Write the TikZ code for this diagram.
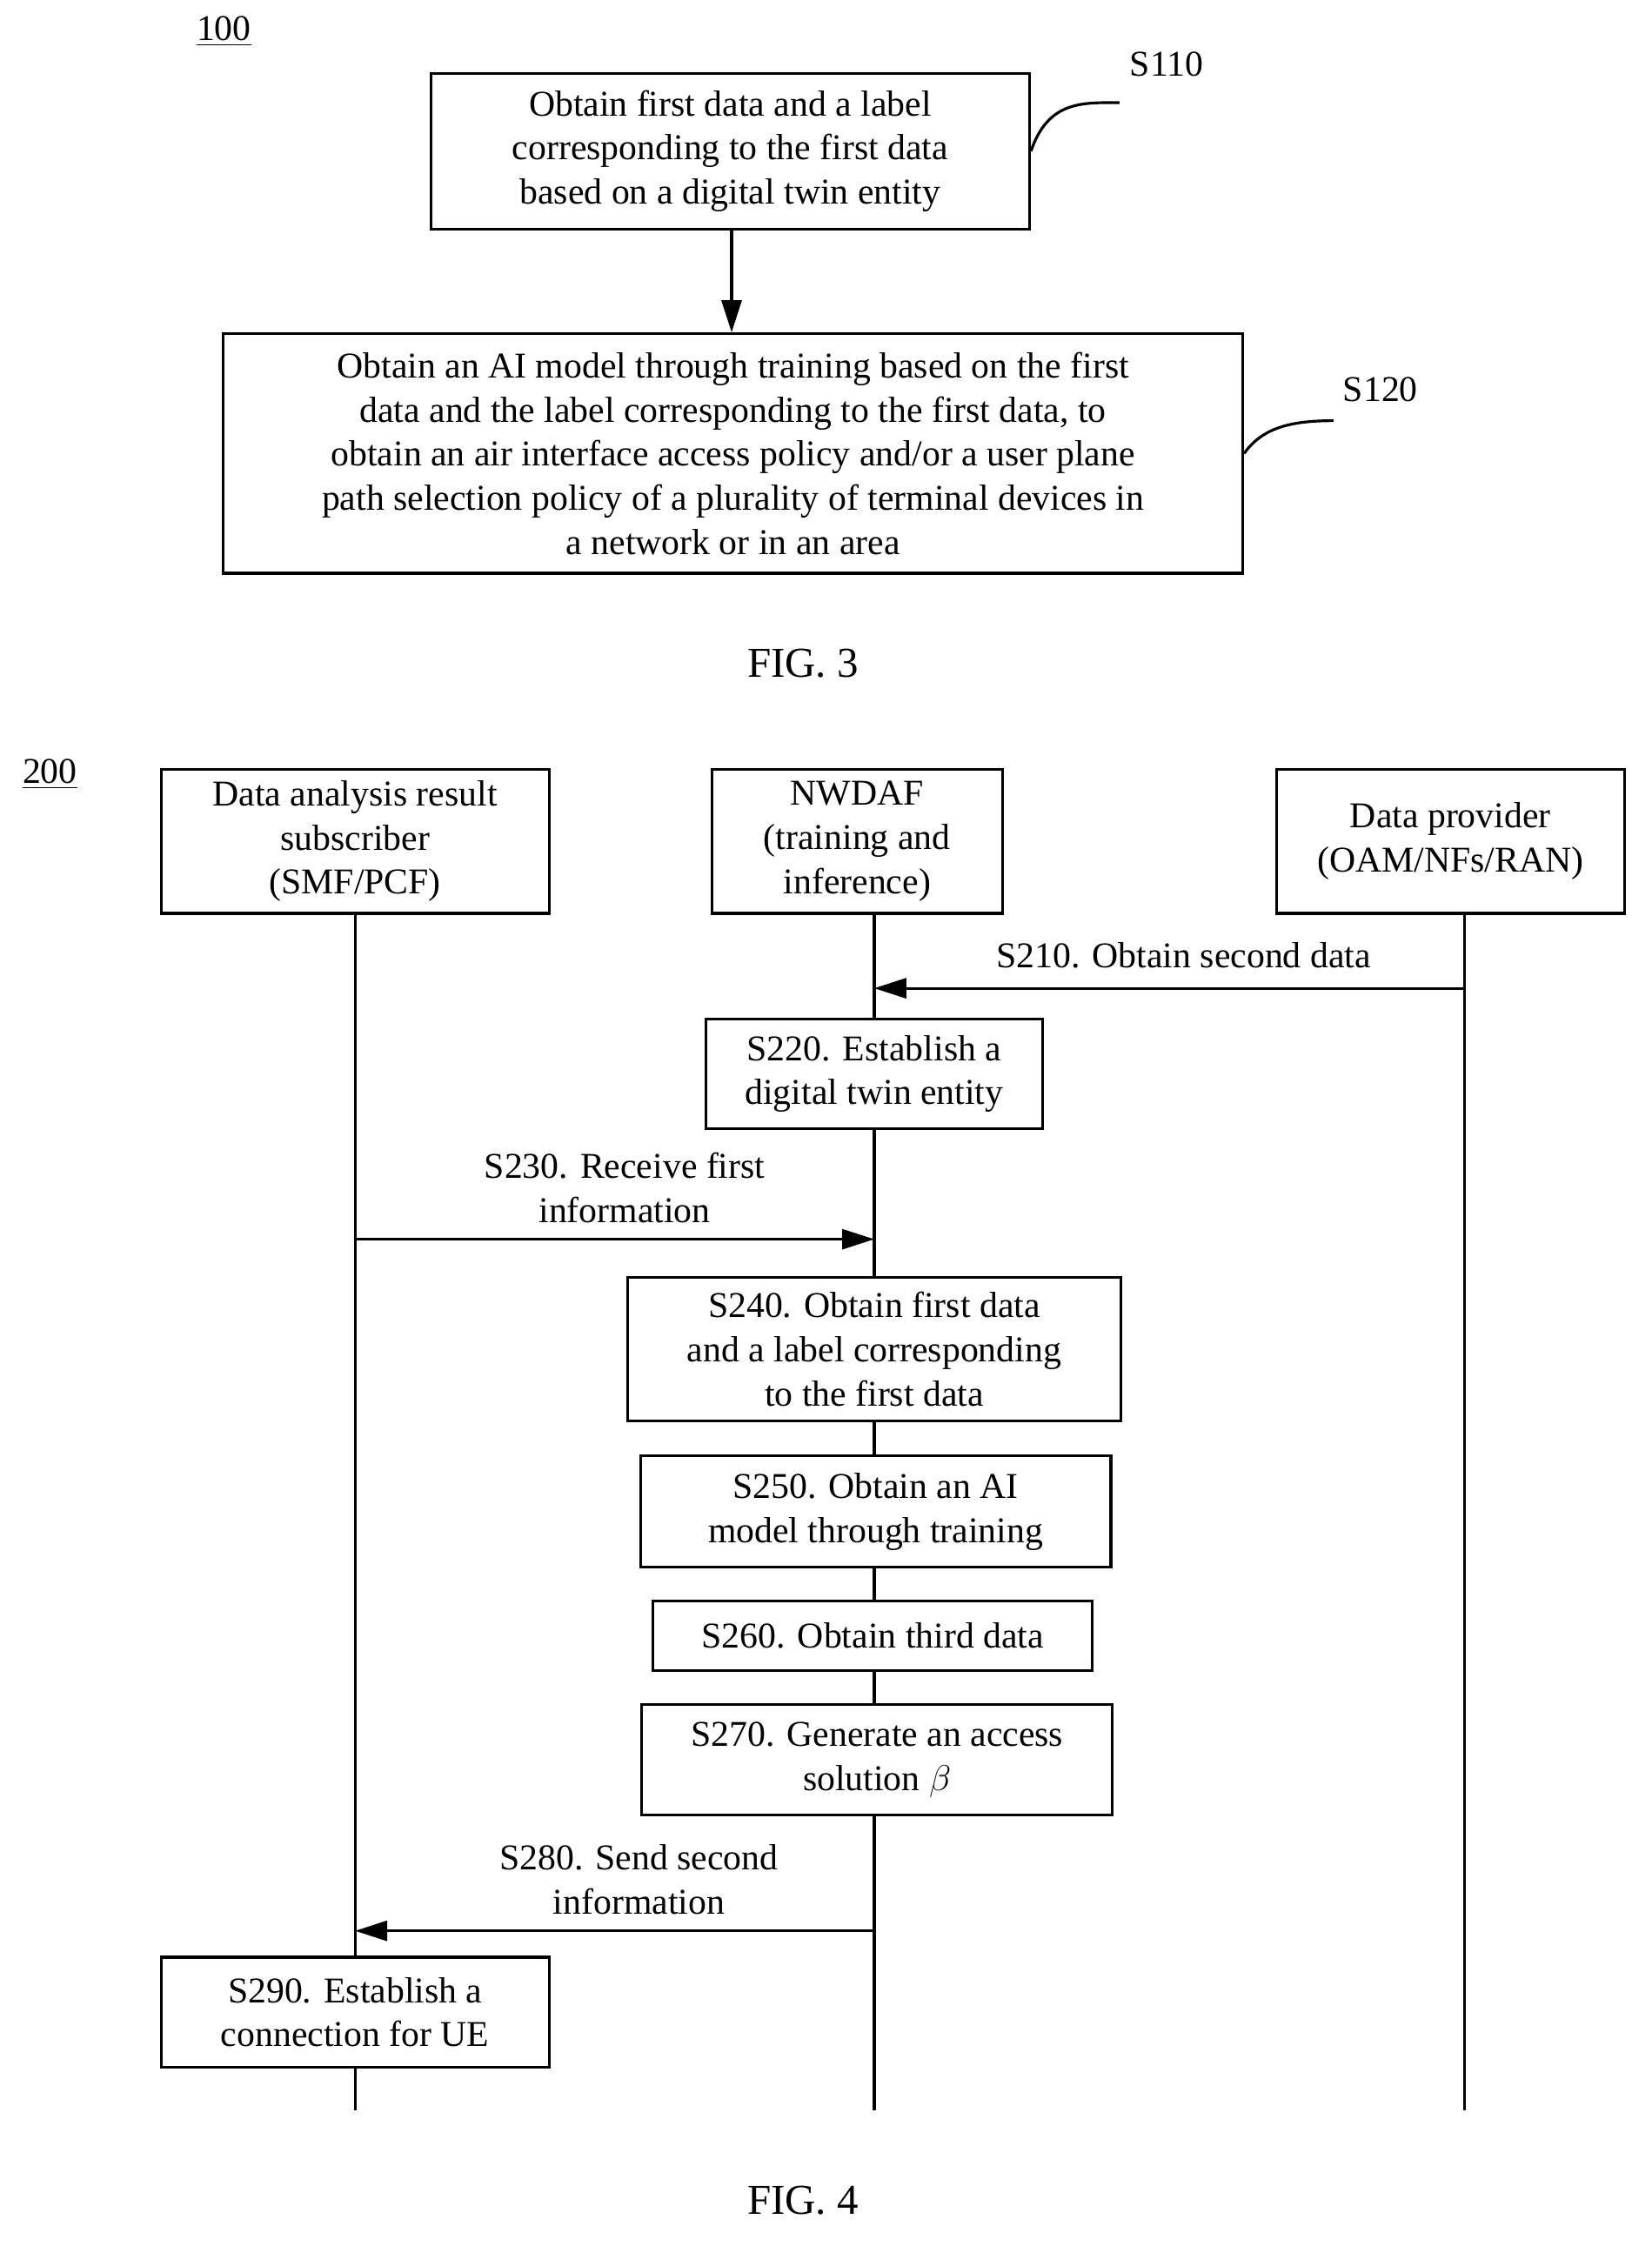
\documentclass[tikz,border=0pt]{standalone}
\usepackage{fontspec}
\setmainfont{Liberation Serif}
\usetikzlibrary{arrows.meta}
\tikzset{
  box/.style={draw, fill=white, line width=1.1pt, align=center, inner sep=0pt},
  life/.style={line width=1.1pt},
  msg/.style={line width=1.1pt, -{Triangle[length=0.45cm,width=0.28cm]}},
  lbl/.style={align=center, inner sep=0pt}
}
\begin{document}
\begin{tikzpicture}[x=0.02cm, y=-0.02cm, font=\fontsize{14.5}{17.6}\selectfont]
    \useasboundingbox (0,0) rectangle (1158,1575);

    % FIG. 3: two steps
    \node[lbl] (n100) at (157,22) {\underline{100}};
    \node[box, minimum width=8.4cm, minimum height=2.18cm] (s110) at (512,106)
        {Obtain first data and a label\\corresponding to the first data\\based on a digital twin entity};
    \node[lbl] (l110) at (818,45) {S110};
    \draw[line width=1.1pt] (s110.east) .. controls (735,70) and (760,72) .. (785,72);
    \node[box, minimum width=14.3cm, minimum height=3.36cm] (s120) at (514,318)
        {Obtain an AI model through training based on the first\\data and the label corresponding to the first data, to\\obtain an air interface access policy and/or a user plane\\path selection policy of a plurality of terminal devices in\\a network or in an area};
    \node[lbl] (l120) at (968,273) {S120};
    \draw[line width=1.1pt] (s120.east) .. controls (885,300) and (905,295) .. (935,295);
    \draw[msg] (s110.south -| 513,0) -- (s120.north -| 513,0);
    \node[lbl, font=\fontsize{17}{20}\selectfont] (fig3) at (563,465) {FIG. 3};

    % FIG. 4: message sequence
    \node[lbl] (n200) at (35,543) {\underline{200}};
    \node[box, minimum width=5.44cm, minimum height=2.02cm] (sub) at (249,590)
        {Data analysis result\\subscriber\\(SMF/PCF)};
    \node[box, minimum width=4.08cm, minimum height=2.02cm] (nwdaf) at (601,590)
        {NWDAF\\(training and\\inference)};
    \node[box, minimum width=4.88cm, minimum height=2.02cm] (prov) at (1017,590)
        {Data provider\\(OAM/NFs/RAN)};
    \coordinate (endA) at (249,1480);
    \coordinate (endB) at (613,1480);
    \coordinate (endC) at (1027,1480);
    \draw[life] (sub.south -| endA) -- (endA);
    \draw[life] (nwdaf.south -| endB) -- (endB);
    \draw[life] (prov.south -| endC) -- (endC);

    % steps on the NWDAF lifeline
    \node[box, minimum width=4.72cm, minimum height=1.54cm] (s220) at (613,753)
        {S220. Establish a\\digital twin entity};
    \node[box, minimum width=6.92cm, minimum height=2.02cm] (s240) at (613,946)
        {S240. Obtain first data\\and a label corresponding\\to the first data};
    \node[box, minimum width=6.6cm, minimum height=1.56cm] (s250) at (614,1060)
        {S250. Obtain an AI\\model through training};
    \node[box, minimum width=6.16cm, minimum height=0.98cm] (s260) at (612,1147)
        {S260. Obtain third data};
    \node[box, minimum width=6.6cm, minimum height=1.54cm] (s270) at (615,1234)
        {S270. Generate an access\\solution $\beta$};
    \node[box, minimum width=5.44cm, minimum height=1.54cm] (s290) at (249,1411)
        {S290. Establish a\\connection for UE};

    % messages
    \coordinate (m210a) at (1027,693);
    \coordinate (m210b) at (613,693);
    \draw[msg] (m210a) -- (m210b);
    \node[lbl] (l210) at (830,670) {S210. Obtain second data};
    \coordinate (m230a) at (249,869);
    \coordinate (m230b) at (613,869);
    \draw[msg] (m230a) -- (m230b);
    \node[lbl] (l230) at (438,833) {S230. Receive first\\information};
    \coordinate (m280a) at (613,1354);
    \coordinate (m280b) at (249,1354);
    \draw[msg] (m280a) -- (m280b);
    \node[lbl] (l280) at (448,1318) {S280. Send second\\information};

    \node[lbl, font=\fontsize{17}{20}\selectfont] (fig4) at (563,1543) {FIG. 4};
\end{tikzpicture}
\end{document}
